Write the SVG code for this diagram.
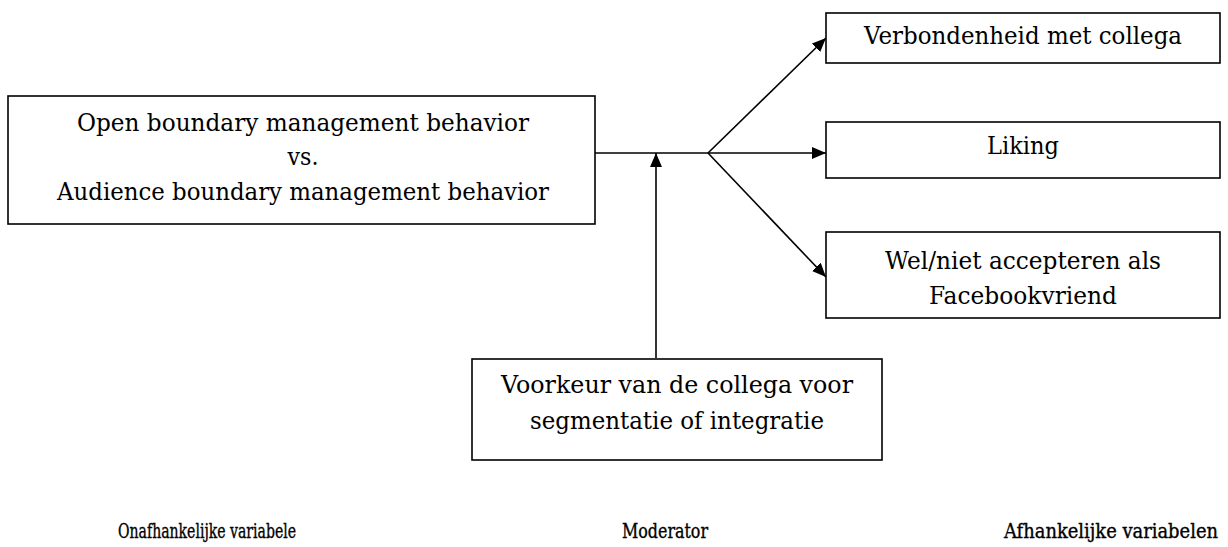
<svg xmlns="http://www.w3.org/2000/svg" width="1228" height="547" viewBox="0 0 1228 547">
<style>
.box{fill:#fff;stroke:#000;stroke-width:1.6}
.t{font-family:"DejaVu Serif","Liberation Serif",serif;font-size:24px;fill:#000;text-anchor:middle}
.l{font-family:"DejaVu Serif Condensed","DejaVu Serif","Liberation Serif",serif;font-stretch:condensed;font-size:20px;stroke:#000;stroke-width:0.35}
.c{stroke:#000;stroke-width:1.6;fill:none}
</style>
<defs>
<marker id="ah" markerWidth="14" markerHeight="12" refX="14" refY="6" orient="auto" markerUnits="userSpaceOnUse" viewBox="0 0 14 12">
<path d="M0,0 L14,6 L0,12 z" fill="#000"/>
</marker>
</defs>
<rect width="1228" height="547" fill="#fff"/>
<g id="connectors">
<line class="c" x1="595" y1="153" x2="708" y2="153"/>
<line class="c" x1="708" y1="153" x2="826" y2="153" marker-end="url(#ah)"/>
<line class="c" x1="708" y1="153" x2="826" y2="38" marker-end="url(#ah)"/>
<line class="c" x1="708" y1="153" x2="826" y2="277" marker-end="url(#ah)"/>
<line class="c" x1="656" y1="358" x2="656" y2="153" marker-end="url(#ah)"/>
</g>
<g id="node-iv">
<rect class="box" x="8" y="96" width="587" height="128"/>
<text class="t" x="303" y="131" textLength="452" lengthAdjust="spacingAndGlyphs">Open boundary management behavior</text>
<text class="t" x="303" y="165" textLength="31" lengthAdjust="spacingAndGlyphs">vs.</text>
<text class="t" x="303" y="200" textLength="492" lengthAdjust="spacingAndGlyphs">Audience boundary management behavior</text>
</g>
<g id="node-dv1">
<rect class="box" x="826" y="13" width="394" height="50"/>
<text class="t" x="1023" y="44" textLength="318" lengthAdjust="spacingAndGlyphs">Verbondenheid met collega</text>
</g>
<g id="node-dv2">
<rect class="box" x="826" y="122" width="394" height="56"/>
<text class="t" x="1023" y="154" textLength="72" lengthAdjust="spacingAndGlyphs">Liking</text>
</g>
<g id="node-dv3">
<rect class="box" x="826" y="232" width="394" height="86"/>
<text class="t" x="1023" y="269" textLength="276" lengthAdjust="spacingAndGlyphs">Wel/niet accepteren als</text>
<text class="t" x="1023" y="304" textLength="188" lengthAdjust="spacingAndGlyphs">Facebookvriend</text>
</g>
<g id="node-mod">
<rect class="box" x="472" y="359" width="410" height="101"/>
<text class="t" x="677" y="393" textLength="352" lengthAdjust="spacingAndGlyphs">Voorkeur van de collega voor</text>
<text class="t" x="677" y="429" textLength="294" lengthAdjust="spacingAndGlyphs">segmentatie of integratie</text>
</g>
<g id="labels">
<text class="t l" x="207" y="538" textLength="178" lengthAdjust="spacingAndGlyphs">Onafhankelijke variabele</text>
<text class="t l" x="665" y="538" textLength="86" lengthAdjust="spacingAndGlyphs">Moderator</text>
<text class="t l" x="1111" y="538" textLength="214" lengthAdjust="spacingAndGlyphs">Afhankelijke variabelen</text>
</g>
</svg>
